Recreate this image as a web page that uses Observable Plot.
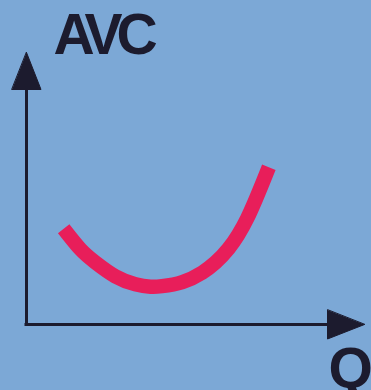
<!DOCTYPE html>
<html><head><meta charset="utf-8">
<script src="https://cdn.jsdelivr.net/npm/d3@7"></script>
<script src="https://cdn.jsdelivr.net/npm/@observablehq/plot@0.6"></script>
<style>
html,body{margin:0;padding:0;background:#7ca8d6;overflow:hidden;}
#chart svg{display:block;}
</style></head><body><div id="chart"></div>
<script>
// U-shaped average variable cost curve (arbitrary units 0–10)
const quantity = [1.10, 1.60, 2.04, 2.63, 3.22, 3.67, 4.01, 4.61, 5.20, 5.59, 5.98, 6.53, 7.17];
const avc      = [3.52, 2.76, 2.28, 1.77, 1.48, 1.39, 1.41, 1.56, 1.91, 2.28, 2.79, 3.90, 5.78];
const yLabel = "AVC";
const xLabel = "Q";

const ink = "#1c1b2e";
const curveColor = "#e81e5a";

const curve = quantity.map((q, i) => ({Q: q, AVC: avc[i]}));
const arrowHeads = [{Q: 0, AVC: 10, rot: 0}, {Q: 10, AVC: 0, rot: 90}];

const triangle = {
  draw(context, l) {
    const w = 14.5;
    context.moveTo(0, -l);
    context.lineTo(w, 0);
    context.lineTo(-w, 0);
    context.closePath();
  }
};

const chart = Plot.plot({
  width: 371,
  height: 390,
  marginLeft: 26,
  marginRight: 7,
  marginTop: 52,
  marginBottom: 66,
  style: {background: "transparent", overflow: "visible"},
  x: {axis: null, domain: [0, 10]},
  y: {axis: null, domain: [0, 10]},
  marks: [
    Plot.ruleX([0], {y1: 0, y2: 9, stroke: ink, strokeWidth: 3, strokeLinecap: "square"}),
    Plot.ruleY([0], {x1: 0, x2: 9, stroke: ink, strokeWidth: 3, strokeLinecap: "square"}),
    Plot.vector(arrowHeads, {x: "Q", y: "AVC", rotate: "rot", length: 37, anchor: "end",
      shape: triangle, fill: ink, stroke: ink, strokeWidth: 1}),
    Plot.line(curve, {x: "Q", y: "AVC", curve: "natural", stroke: curveColor,
      strokeWidth: 14.5, strokeLinecap: "butt", strokeLinejoin: "round"}),
    Plot.text([yLabel], {text: d => d, frameAnchor: "top-left", dx: 27, dy: 1,
      lineAnchor: "bottom", textAnchor: "start", fontSize: 57, fontWeight: "bold",
      fontFamily: "Liberation Sans, Arial, sans-serif", fill: ink}),
    Plot.text([xLabel], {text: d => d, frameAnchor: "bottom-right", dx: -36, dy: 23,
      lineAnchor: "top", textAnchor: "start", fontSize: 57, fontWeight: "bold",
      fontFamily: "Liberation Sans, Arial, sans-serif", fill: ink})
  ]
});
chart.querySelectorAll("text").forEach(t => {
  if (t.textContent === yLabel) t.style.letterSpacing = "-6px";
});
document.getElementById("chart").append(chart);
</script>
</body></html>
